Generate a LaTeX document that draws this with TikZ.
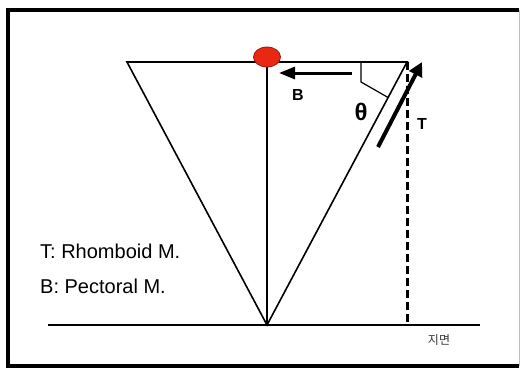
\documentclass[tikz,border=0pt]{standalone}
\usepackage{fontspec}
\setmainfont{Liberation Sans}
\newfontfamily\krfont{Noto Sans CJK KR}
\usepackage{tikz}
\usetikzlibrary{positioning,arrows.meta,calc,shapes.geometric}
\definecolor{ballred}{RGB}{232,40,18}
\definecolor{balledge}{RGB}{160,20,10}
\tikzset{
  frm/.style={line width=4pt},
  ln/.style={line width=1.6pt},
  gnd/.style={line width=2.4pt},
  ball/.style={ellipse,fill=ballred,draw=balledge,line width=0.8pt,minimum width=27pt,minimum height=20pt,inner sep=0pt},
  pull/.style={-{Triangle[length=14pt,width=14pt]},line width=4pt},
  push/.style={-{Triangle[length=16pt,width=12pt]},line width=3pt},
  proj/.style={line width=3pt,dash pattern=on 8pt off 4pt},
  lbl/.style={font=\fontsize{16}{18}\selectfont\bfseries,inner sep=0pt},
  key/.style={font=\fontsize{20}{22}\selectfont,anchor=west,inner sep=0pt},
}

\begin{document}
\begin{tikzpicture}[x=1pt,y=-1pt]
  \useasboundingbox (0,0) rectangle (521,368);
  % frame
  \draw[frm] (519,366) -- (8,366) -- (8,10) -- (519,10);
  \draw[gray!50,line width=1pt] (519,10) -- (519,366);
  % triangle and ground
  \coordinate (tl) at (127,62);
  \coordinate (tr) at (407,62);
  \coordinate (bv) at (267,325);
  \coordinate (top) at (267,62);
  \coordinate (g1) at (48,325);
  \coordinate (g2) at (480,325);
  \coordinate (foot) at (407,325);
  \draw[ln] (tl) -- (tr) -- (bv) -- cycle;
  \draw[ln] (top) -- (bv);
  \draw[gnd] (g1) -- (g2);
  \node[ball] (bl) at (267,57) {};
  % angle mark
  \coordinate (a1) at (361,62);
  \coordinate (a2) at (361,82);
  \draw[line width=1.2pt] (a1) -- (a2) -- ($(tr)!0.135!(bv)$);
  \node[font=\fontsize{24}{26}\selectfont\bfseries,inner sep=0pt] (th) at (361,112) {θ};
  % forces
  \coordinate (bs) at (352,73);
  \coordinate (be) at (279,73);
  \draw[push] (bs) -- (be);
  \node[lbl] (bb) at (298,95) {B};
  \draw[proj] (tr) -- (foot);
  \coordinate (ts) at (378,147);
  \coordinate (te) at (422,62);
  \draw[pull] (ts) -- (te);
  \node[lbl] (tt) at (422,124) {T};
  % legend
  \node[key] (k1) at (40,251) {T: Rhomboid M.};
  \node[key] (k2) at (40,286) {B: Pectoral M.};
  \node[font=\krfont\fontsize{12}{14}\selectfont,text=black!80,inner sep=0pt] (gl) at (439,340) {지면};
\end{tikzpicture}
\end{document}
